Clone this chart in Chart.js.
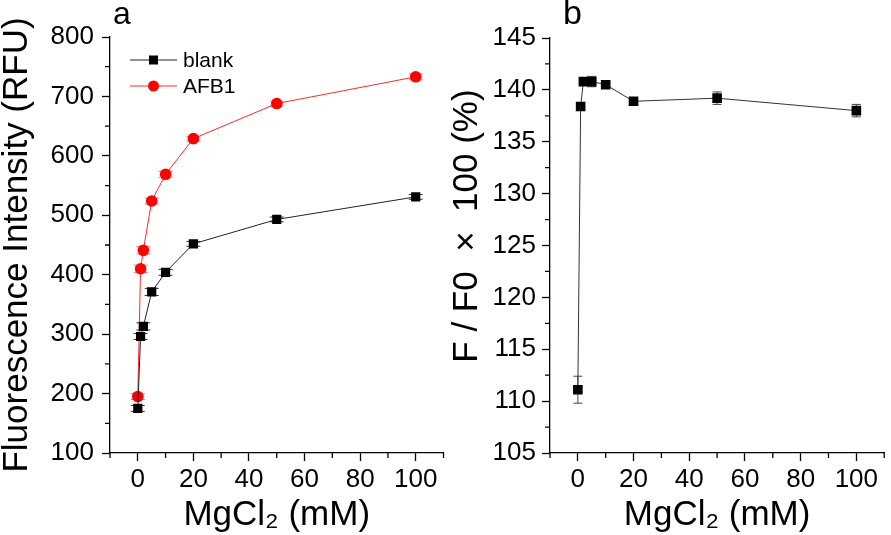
<!DOCTYPE html>
<html>
<head>
<meta charset="utf-8">
<script src="https://cdn.jsdelivr.net/npm/chart.js@4.4.1/dist/chart.umd.min.js"></script>
<style>
  body { margin: 0; background: #fff; }
  #wrap { position: relative; width: 891px; height: 535px; overflow: hidden; }
  canvas { position: absolute; top: 0; }
  .panel { position: absolute; font-family: "Liberation Sans", Arial, sans-serif; color: #000; line-height: 1; }
</style>
</head>
<body>
<div id="wrap">
  <canvas id="chartA" width="450" height="535" style="left:0"></canvas>
  <canvas id="chartB" width="441" height="535" style="left:450px"></canvas>
  <div class="panel" style="left:113px; top:-3px; font-size:32px">a</div>
  <div class="panel" style="left:563px; top:-5px; font-size:34px">b</div>
</div>
<script>
// MgCl2 concentrations (mM)
const conc = [0, 1, 2, 5, 10, 20, 50, 100];

// panel a
const blankVals = [175, 296, 313, 371, 404, 452, 493, 531];
const blankErr  = [5, 5, 6, 6, 5, 4, 4, 4];
const afbVals   = [195, 410, 441, 524, 569, 629, 688, 733];
const afbErr    = [5, 6, 6, 5, 5, 4, 4, 5];

// panel b  (F / F0 x 100)
const ratioVals = [111.1, 138.4, 140.8, 140.8, 140.5, 138.9, 139.2, 138.0];
const ratioErr  = [1.3, 0.25, 0.3, 0.5, 0.2, 0.35, 0.6, 0.6];

// tick labels
const xTicks  = [0, 20, 40, 60, 80, 100];
const yTicksA = [100, 200, 300, 400, 500, 600, 700, 800];
const yTicksB = [105, 110, 115, 120, 125, 130, 135, 140, 145];

const FONT = "'Liberation Sans', Arial, sans-serif";
const pts = (xs, ys) => xs.map((x, i) => ({ x: x, y: ys[i] }));
const mids = arr => {
  const out = [];
  for (let i = 0; i < arr.length - 1; i++) out.push((arr[i] + arr[i + 1]) / 2);
  return out;
};
const xMinor = [-10].concat(mids(xTicks), [110]);

// vertical error bars with caps, drawn under the markers
const errorBars = {
  id: 'errorBars',
  beforeDatasetsDraw(chart) {
    const ctx = chart.ctx;
    const xs = chart.scales.x, ys = chart.scales.y;
    chart.data.datasets.forEach(ds => {
      if (!ds.errors) return;
      ctx.save();
      ctx.strokeStyle = ds.errorColor;
      ctx.lineWidth = 1;
      ds.data.forEach((p, j) => {
        const x = xs.getPixelForValue(p.x);
        const t = ys.getPixelForValue(p.y + ds.errors[j]);
        const b = ys.getPixelForValue(p.y - ds.errors[j]);
        const w = ds.capHalf;
        ctx.beginPath();
        ctx.moveTo(x, t); ctx.lineTo(x, b);
        ctx.moveTo(x - w, t); ctx.lineTo(x + w, t);
        ctx.moveTo(x - w, b); ctx.lineTo(x + w, b);
        ctx.stroke();
      });
      ctx.restore();
    });
  }
};

// short minor ticks between the labelled ones
const minorTicks = {
  id: 'minorTicks',
  afterDraw(chart, args, opts) {
    const ctx = chart.ctx;
    const xs = chart.scales.x, ys = chart.scales.y;
    ctx.save();
    ctx.strokeStyle = '#000';
    ctx.lineWidth = 1.3;
    ctx.beginPath();
    opts.x.forEach(v => {
      const p = xs.getPixelForValue(v);
      ctx.moveTo(p, xs.top); ctx.lineTo(p, xs.top + opts.len);
    });
    opts.y.forEach(v => {
      const p = ys.getPixelForValue(v);
      ctx.moveTo(ys.right, p); ctx.lineTo(ys.right - opts.len, p);
    });
    ctx.stroke();
    ctx.restore();
  }
};

// legend inside the plot, line + marker + label
const insideLegend = {
  id: 'insideLegend',
  afterDatasetsDraw(chart, args, opts) {
    if (!opts.show) return;
    const { ctx, chartArea } = chart;
    chart.data.datasets.forEach((ds, i) => {
      const y = chartArea.top + opts.top + i * opts.gap;
      const x0 = chartArea.left + opts.left;
      const xm = x0 + opts.lineLen / 2;
      ctx.save();
      ctx.strokeStyle = ds.borderColor;
      ctx.lineWidth = 1;
      ctx.beginPath(); ctx.moveTo(x0, y); ctx.lineTo(x0 + opts.lineLen, y); ctx.stroke();
      ctx.fillStyle = ds.pointBackgroundColor;
      if (ds.pointStyle === 'rect') {
        ctx.fillRect(xm - 4.5, y - 4.5, 9, 9);
      } else {
        ctx.beginPath(); ctx.arc(xm, y, 5.5, 0, Math.PI * 2); ctx.fill();
      }
      ctx.fillStyle = '#000';
      ctx.font = '21px ' + FONT;
      ctx.textBaseline = 'middle';
      ctx.fillText(ds.label, x0 + opts.lineLen + 6, y + 1);
      ctx.restore();
    });
  }
};

function scaleOpts(cfg) {
  return {
    x: {
      type: 'linear', min: -10, max: 110,
      afterBuildTicks: s => { s.ticks = xTicks.map(v => ({ value: v })); },
      afterFit: s => { s.height = 82; },
      border: { color: '#000', width: 1.3 },
      grid: { drawOnChartArea: false, tickLength: 8, tickColor: '#000', tickWidth: 1.3 },
      ticks: { color: '#000', font: { family: FONT, size: 26 }, padding: 3, maxRotation: 0 },
      title: { display: true, text: 'MgCl₂ (mM)', color: '#000',
               font: { family: FONT, size: 35, lineHeight: 1 }, padding: { top: 0, bottom: 2 } }
    },
    y: {
      type: 'linear', min: cfg.ymin, max: cfg.ymax,
      afterBuildTicks: s => { s.ticks = cfg.yTicks.map(v => ({ value: v })); },
      afterFit: s => { s.width = cfg.yWidth; },
      border: { color: '#000', width: 1.3 },
      grid: { drawOnChartArea: false, tickLength: 8, tickColor: '#000', tickWidth: 1.3 },
      ticks: { color: '#000', font: { family: FONT, size: 26 }, padding: cfg.labelPad },
      title: { display: true, text: cfg.ytitle, color: '#000',
               font: { family: FONT, size: 35, lineHeight: 1 }, padding: { top: 0, bottom: 0 } }
    }
  };
}

new Chart(document.getElementById('chartA'), {
  type: 'line',
  data: {
    datasets: [{
      label: 'blank',
      data: pts(conc, blankVals),
      errors: blankErr, errorColor: '#333', capHalf: 7,
      borderColor: '#222', borderWidth: 1,
      pointStyle: 'rect', pointRadius: 6.5, pointBorderWidth: 0,
      pointBackgroundColor: '#000', fill: false, tension: 0
    }, {
      label: 'AFB1',
      data: pts(conc, afbVals),
      errors: afbErr, errorColor: '#ff7070', capHalf: 7,
      borderColor: '#ff2a2a', borderWidth: 1,
      pointStyle: 'circle', pointRadius: 5.8, pointBorderWidth: 0,
      pointBackgroundColor: '#ff0000', fill: false, tension: 0
    }]
  },
  options: {
    responsive: false, animation: false, devicePixelRatio: 1,
    layout: { padding: { top: 37, right: 3, left: 0, bottom: 0 } },
    scales: scaleOpts({ ymin: 100, ymax: 800, yTicks: yTicksA, yWidth: 110, labelPad: 8,
                        ytitle: 'Fluorescence Intensity (RFU)' }),
    plugins: {
      legend: { display: false }, tooltip: { enabled: false },
      minorTicks: { x: xMinor, y: mids(yTicksA), len: 5 },
      insideLegend: { show: true, left: 20, top: 23, gap: 26, lineLen: 47 }
    }
  },
  plugins: [errorBars, minorTicks, insideLegend]
});

new Chart(document.getElementById('chartB'), {
  type: 'line',
  data: {
    datasets: [{
      label: 'F / F0',
      data: pts(conc, ratioVals),
      errors: ratioErr, errorColor: '#444', capHalf: 4.5,
      borderColor: '#333', borderWidth: 1,
      pointStyle: 'rect', pointRadius: 6.8, pointBorderWidth: 0,
      pointBackgroundColor: '#000', fill: false, tension: 0
    }]
  },
  options: {
    responsive: false, animation: false, devicePixelRatio: 1,
    layout: { padding: { top: 38, right: 3, left: 0, bottom: 0 } },
    scales: scaleOpts({ ymin: 105, ymax: 145, yTicks: yTicksB, yWidth: 100, labelPad: 6,
                        ytitle: '    F / F0  ×  100 (%)' }),
    plugins: {
      legend: { display: false }, tooltip: { enabled: false },
      minorTicks: { x: xMinor, y: mids(yTicksB), len: 5 },
      insideLegend: { show: false }
    }
  },
  plugins: [errorBars, minorTicks, insideLegend]
});
</script>
</body>
</html>
